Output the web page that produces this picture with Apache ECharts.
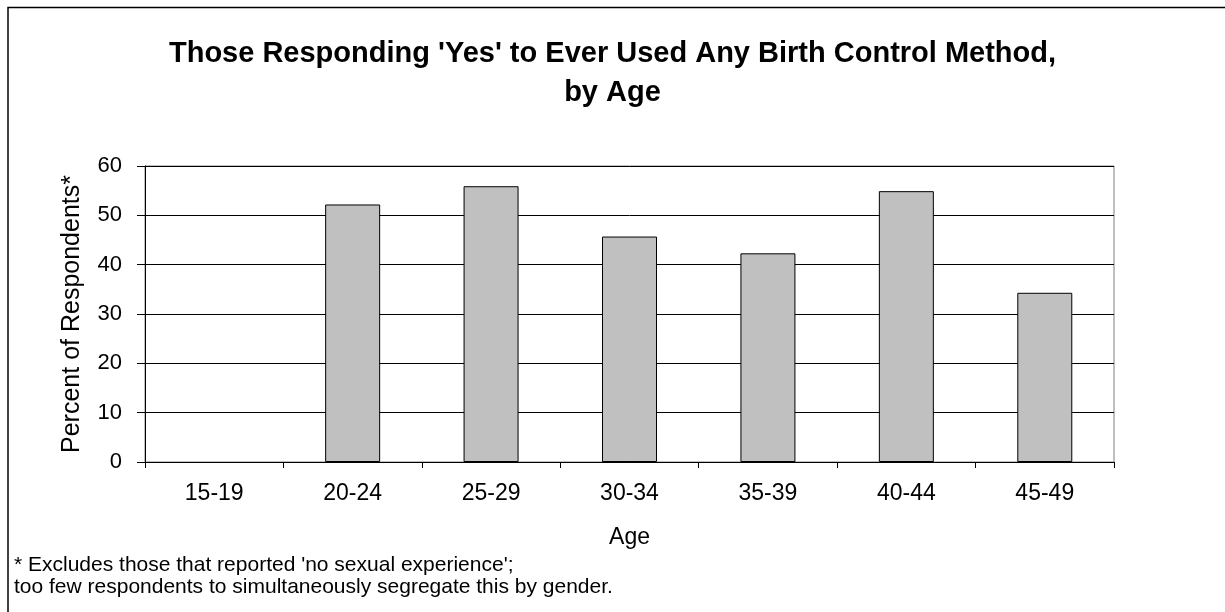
<!DOCTYPE html>
<html><head><meta charset="utf-8">
<script src="https://cdn.jsdelivr.net/npm/echarts@6/dist/echarts.min.js"></script>
<style>html,body{margin:0;padding:0;background:#fff}#c{width:1225px;height:612px}</style>
</head><body><div id="c"></div>
<script>
const categories = ['15-19','20-24','25-29','30-34','35-39','40-44','45-49'];
const values = [null, 52.2, 55.9, 45.7, 42.3, 54.9, 34.3];
const yTicks = [0, 10, 20, 30, 40, 50, 60];
const titleText = "Those Responding 'Yes' to Ever Used Any Birth Control Method,\nby Age";
const footnote = "* Excludes those that reported 'no sexual experience';\ntoo few respondents to simultaneously segregate this by gender.";

const chart = echarts.init(document.getElementById('c'), null, {renderer:'canvas'});
const F = 'Liberation Sans, Arial, sans-serif';
chart.setOption({
  animation:false,
  backgroundColor:'#fff',
  title:{text:titleText,left:'center',top:29,textStyle:{fontFamily:F,fontSize:29,fontWeight:'bold',color:'#000',lineHeight:39}},
  grid:{left:145,right:111,top:166,bottom:150,show:true,borderColor:'#808080',borderWidth:1,backgroundColor:'transparent'},
  xAxis:{type:'category',data:categories,name:'Age',nameLocation:'middle',nameGap:64,
    nameTextStyle:{fontFamily:F,fontSize:23,color:'#000'},
    axisLine:{lineStyle:{color:'#000',width:1}},
    axisTick:{show:true,alignWithLabel:false,length:6,lineStyle:{color:'#000'}},
    axisLabel:{fontFamily:F,fontSize:23,color:'#000',margin:20}},
  yAxis:{type:'value',min:yTicks[0],max:yTicks[yTicks.length-1],interval:10,name:'Percent of Respondents*',nameLocation:'middle',nameGap:60,
    nameTextStyle:{fontFamily:F,fontSize:25,color:'#000'},
    axisLine:{show:true,lineStyle:{color:'#000',width:1}},
    axisTick:{show:true,length:8,lineStyle:{color:'#000'}},
    axisLabel:{fontFamily:F,fontSize:22,color:'#000',margin:23},
    splitLine:{lineStyle:{color:'#000',width:1}}},
  series:[{type:'bar',data:values,barWidth:55,itemStyle:{color:'#C0C0C0',borderColor:'#000',borderWidth:1}}],
  graphic:[
    {type:'rect',shape:{x:8,y:7.5,width:1240,height:640},style:{fill:'none',stroke:'#000',lineWidth:1.5},silent:true},
    {type:'text',left:14,top:554,style:{text:footnote,font:'21px Liberation Sans, Arial, sans-serif',fill:'#000',lineHeight:22}}
  ]
});
</script></body></html>
